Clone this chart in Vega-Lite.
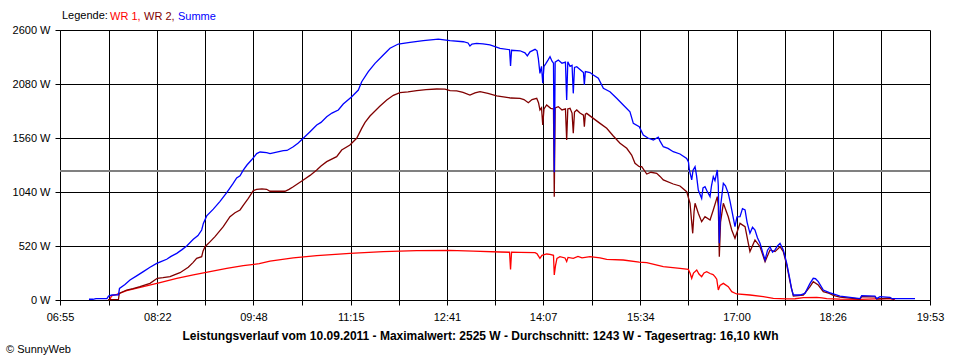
{
 "$schema": "https://vega.github.io/schema/vega-lite/v6.json",
 "width": 870,
 "height": 270,
 "autosize": "none",
 "padding": {"left": 60, "top": 30, "right": 30, "bottom": 60},
 "background": "white",
 "title": {"text": "© SunnyWeb", "orient": "bottom", "anchor": "start", "frame": "bounds", "font": "Liberation Sans", "fontSize": 11, "fontWeight": "normal", "color": "black", "offset": 3, "dx": -6},
 "config": {"view": {"stroke": null}, "font": "Liberation Sans"},
 "data": {"values": [
  {"min":459.7,"serie":"WR 1","watt":5},{"min":461.1,"serie":"WR 1","watt":40},{"min":465.7,"serie":"WR 1","watt":55},{"min":474.6,"serie":"WR 1","watt":90},{"min":489.5,"serie":"WR 1","watt":128},{"min":504.4,"serie":"WR 1","watt":167},{"min":519.4,"serie":"WR 1","watt":209},{"min":534.2,"serie":"WR 1","watt":241},{"min":549.1,"serie":"WR 1","watt":273},{"min":564.1,"serie":"WR 1","watt":305},{"min":578.9,"serie":"WR 1","watt":331},{"min":593.2,"serie":"WR 1","watt":350},{"min":602.8,"serie":"WR 1","watt":375},{"min":623.6,"serie":"WR 1","watt":405},{"min":644.6,"serie":"WR 1","watt":427},{"min":674.3,"serie":"WR 1","watt":449},{"min":704.1,"serie":"WR 1","watt":466},{"min":734.0,"serie":"WR 1","watt":475},{"min":763.1,"serie":"WR 1","watt":477},{"min":784.6,"serie":"WR 1","watt":470},{"min":808.5,"serie":"WR 1","watt":462},{"min":817.0,"serie":"WR 1","watt":460},{"min":817.9,"serie":"WR 1","watt":295},{"min":818.8,"serie":"WR 1","watt":460},{"min":826.4,"serie":"WR 1","watt":458},{"min":839.8,"serie":"WR 1","watt":456},{"min":841.6,"serie":"WR 1","watt":445},{"min":844.2,"serie":"WR 1","watt":401},{"min":846.0,"serie":"WR 1","watt":430},{"min":850.2,"serie":"WR 1","watt":443},{"min":853.2,"serie":"WR 1","watt":440},{"min":856.3,"serie":"WR 1","watt":430},{"min":857.0,"serie":"WR 1","watt":241},{"min":858.1,"serie":"WR 1","watt":330},{"min":859.4,"serie":"WR 1","watt":400},{"min":862.1,"serie":"WR 1","watt":417},{"min":866.6,"serie":"WR 1","watt":405},{"min":868.1,"serie":"WR 1","watt":370},{"min":869.3,"serie":"WR 1","watt":410},{"min":874.0,"serie":"WR 1","watt":401},{"min":878.2,"serie":"WR 1","watt":420},{"min":881.8,"serie":"WR 1","watt":405},{"min":889.0,"serie":"WR 1","watt":417},{"min":897.9,"serie":"WR 1","watt":405},{"min":903.9,"serie":"WR 1","watt":392},{"min":918.7,"serie":"WR 1","watt":385},{"min":933.0,"serie":"WR 1","watt":365},{"min":939.7,"serie":"WR 1","watt":360},{"min":954.5,"serie":"WR 1","watt":321},{"min":969.4,"serie":"WR 1","watt":305},{"min":976.9,"serie":"WR 1","watt":295},{"min":978.4,"serie":"WR 1","watt":260},{"min":979.9,"serie":"WR 1","watt":209},{"min":981.5,"serie":"WR 1","watt":260},{"min":984.4,"serie":"WR 1","watt":289},{"min":986.4,"serie":"WR 1","watt":250},{"min":988.8,"serie":"WR 1","watt":225},{"min":990.9,"serie":"WR 1","watt":260},{"min":993.3,"serie":"WR 1","watt":273},{"min":996.3,"serie":"WR 1","watt":255},{"min":999.0,"serie":"WR 1","watt":245},{"min":1000.7,"serie":"WR 1","watt":225},{"min":1002.3,"serie":"WR 1","watt":200},{"min":1003.7,"serie":"WR 1","watt":96},{"min":1005.2,"serie":"WR 1","watt":140},{"min":1008.2,"serie":"WR 1","watt":160},{"min":1012.6,"serie":"WR 1","watt":128},{"min":1015.7,"serie":"WR 1","watt":80},{"min":1020.1,"serie":"WR 1","watt":58},{"min":1032.0,"serie":"WR 1","watt":48},{"min":1043.9,"serie":"WR 1","watt":32},{"min":1052.9,"serie":"WR 1","watt":16},{"min":1064.9,"serie":"WR 1","watt":10},{"min":1072.3,"serie":"WR 1","watt":12},{"min":1079.7,"serie":"WR 1","watt":22},{"min":1091.7,"serie":"WR 1","watt":26},{"min":1096.4,"serie":"WR 1","watt":20},{"min":1100.6,"serie":"WR 1","watt":13},{"min":1112.5,"serie":"WR 1","watt":8},{"min":1130.4,"serie":"WR 1","watt":6},{"min":1143.8,"serie":"WR 1","watt":10},{"min":1157.2,"serie":"WR 1","watt":13},{"min":1161.7,"serie":"WR 1","watt":3},
  {"min":457.9,"serie":"WR 2","watt":3},{"min":467.3,"serie":"WR 2","watt":5},{"min":468.0,"serie":"WR 2","watt":64},{"min":474.6,"serie":"WR 2","watt":96},{"min":480.3,"serie":"WR 2","watt":110},{"min":486.5,"serie":"WR 2","watt":128},{"min":495.5,"serie":"WR 2","watt":160},{"min":502.0,"serie":"WR 2","watt":209},{"min":507.1,"serie":"WR 2","watt":215},{"min":513.4,"serie":"WR 2","watt":225},{"min":517.8,"serie":"WR 2","watt":245},{"min":522.3,"serie":"WR 2","watt":263},{"min":529.7,"serie":"WR 2","watt":315},{"min":533.9,"serie":"WR 2","watt":360},{"min":537.2,"serie":"WR 2","watt":401},{"min":541.7,"serie":"WR 2","watt":417},{"min":542.9,"serie":"WR 2","watt":470},{"min":544.7,"serie":"WR 2","watt":513},{"min":549.1,"serie":"WR 2","watt":560},{"min":553.6,"serie":"WR 2","watt":610},{"min":561.0,"serie":"WR 2","watt":706},{"min":567.0,"serie":"WR 2","watt":802},{"min":571.5,"serie":"WR 2","watt":840},{"min":576.0,"serie":"WR 2","watt":867},{"min":579.5,"serie":"WR 2","watt":920},{"min":583.4,"serie":"WR 2","watt":979},{"min":587.9,"serie":"WR 2","watt":1053},{"min":590.9,"serie":"WR 2","watt":1066},{"min":595.6,"serie":"WR 2","watt":1070},{"min":599.8,"serie":"WR 2","watt":1066},{"min":602.8,"serie":"WR 2","watt":1047},{"min":616.2,"serie":"WR 2","watt":1047},{"min":619.8,"serie":"WR 2","watt":1065},{"min":623.6,"serie":"WR 2","watt":1091},{"min":632.6,"serie":"WR 2","watt":1156},{"min":638.6,"serie":"WR 2","watt":1200},{"min":644.6,"serie":"WR 2","watt":1252},{"min":648.4,"serie":"WR 2","watt":1290},{"min":653.5,"serie":"WR 2","watt":1332},{"min":662.4,"serie":"WR 2","watt":1380},{"min":666.9,"serie":"WR 2","watt":1444},{"min":674.3,"serie":"WR 2","watt":1492},{"min":680.3,"serie":"WR 2","watt":1557},{"min":684.8,"serie":"WR 2","watt":1653},{"min":687.8,"serie":"WR 2","watt":1710},{"min":692.2,"serie":"WR 2","watt":1772},{"min":701.2,"serie":"WR 2","watt":1868},{"min":707.2,"serie":"WR 2","watt":1926},{"min":713.1,"serie":"WR 2","watt":1971},{"min":719.0,"serie":"WR 2","watt":1997},{"min":726.2,"serie":"WR 2","watt":2005},{"min":734.0,"serie":"WR 2","watt":2016},{"min":742.3,"serie":"WR 2","watt":2025},{"min":751.9,"serie":"WR 2","watt":2032},{"min":759.3,"serie":"WR 2","watt":2030},{"min":763.8,"serie":"WR 2","watt":2016},{"min":769.8,"serie":"WR 2","watt":2013},{"min":775.4,"serie":"WR 2","watt":2000},{"min":781.6,"serie":"WR 2","watt":1974},{"min":786.1,"serie":"WR 2","watt":1995},{"min":790.6,"serie":"WR 2","watt":2006},{"min":797.7,"serie":"WR 2","watt":1990},{"min":805.5,"serie":"WR 2","watt":1965},{"min":814.5,"serie":"WR 2","watt":1952},{"min":818.3,"serie":"WR 2","watt":1945},{"min":826.4,"serie":"WR 2","watt":1942},{"min":829.9,"serie":"WR 2","watt":1930},{"min":833.8,"serie":"WR 2","watt":1900},{"min":837.1,"serie":"WR 2","watt":1930},{"min":841.3,"serie":"WR 2","watt":1942},{"min":842.9,"serie":"WR 2","watt":1900},{"min":844.2,"serie":"WR 2","watt":1830},{"min":845.6,"serie":"WR 2","watt":1850},{"min":846.7,"serie":"WR 2","watt":1685},{"min":847.8,"serie":"WR 2","watt":1840},{"min":850.2,"serie":"WR 2","watt":1878},{"min":853.8,"serie":"WR 2","watt":1846},{"min":856.3,"serie":"WR 2","watt":1840},{"min":857.0,"serie":"WR 2","watt":995},{"min":857.8,"serie":"WR 2","watt":1850},{"min":860.6,"serie":"WR 2","watt":1862},{"min":863.9,"serie":"WR 2","watt":1830},{"min":867.0,"serie":"WR 2","watt":1840},{"min":868.1,"serie":"WR 2","watt":1541},{"min":869.1,"serie":"WR 2","watt":1840},{"min":871.1,"serie":"WR 2","watt":1846},{"min":872.9,"serie":"WR 2","watt":1800},{"min":874.0,"serie":"WR 2","watt":1605},{"min":875.1,"serie":"WR 2","watt":1810},{"min":877.1,"serie":"WR 2","watt":1830},{"min":880.0,"serie":"WR 2","watt":1800},{"min":883.1,"serie":"WR 2","watt":1780},{"min":883.9,"serie":"WR 2","watt":1669},{"min":884.8,"serie":"WR 2","watt":1790},{"min":886.0,"serie":"WR 2","watt":1797},{"min":891.9,"serie":"WR 2","watt":1749},{"min":897.9,"serie":"WR 2","watt":1701},{"min":903.9,"serie":"WR 2","watt":1653},{"min":909.8,"serie":"WR 2","watt":1579},{"min":915.8,"serie":"WR 2","watt":1509},{"min":921.8,"serie":"WR 2","watt":1461},{"min":926.2,"serie":"WR 2","watt":1396},{"min":929.2,"serie":"WR 2","watt":1316},{"min":933.0,"serie":"WR 2","watt":1284},{"min":935.2,"serie":"WR 2","watt":1284},{"min":939.7,"serie":"WR 2","watt":1213},{"min":943.5,"serie":"WR 2","watt":1230},{"min":948.6,"serie":"WR 2","watt":1220},{"min":951.6,"serie":"WR 2","watt":1190},{"min":954.5,"serie":"WR 2","watt":1156},{"min":963.4,"serie":"WR 2","watt":1117},{"min":969.4,"serie":"WR 2","watt":1098},{"min":975.4,"serie":"WR 2","watt":1043},{"min":978.4,"serie":"WR 2","watt":931},{"min":980.8,"serie":"WR 2","watt":642},{"min":982.0,"serie":"WR 2","watt":850},{"min":982.9,"serie":"WR 2","watt":931},{"min":985.8,"serie":"WR 2","watt":835},{"min":988.8,"serie":"WR 2","watt":754},{"min":991.8,"serie":"WR 2","watt":802},{"min":996.3,"serie":"WR 2","watt":770},{"min":999.2,"serie":"WR 2","watt":867},{"min":1002.8,"serie":"WR 2","watt":995},{"min":1003.7,"serie":"WR 2","watt":900},{"min":1004.6,"serie":"WR 2","watt":417},{"min":1005.7,"serie":"WR 2","watt":750},{"min":1008.2,"serie":"WR 2","watt":931},{"min":1012.6,"serie":"WR 2","watt":802},{"min":1015.7,"serie":"WR 2","watt":674},{"min":1018.6,"serie":"WR 2","watt":594},{"min":1023.1,"serie":"WR 2","watt":738},{"min":1027.6,"serie":"WR 2","watt":706},{"min":1032.0,"serie":"WR 2","watt":466},{"min":1036.5,"serie":"WR 2","watt":578},{"min":1041.0,"serie":"WR 2","watt":513},{"min":1045.5,"serie":"WR 2","watt":369},{"min":1049.9,"serie":"WR 2","watt":482},{"min":1054.4,"serie":"WR 2","watt":466},{"min":1058.9,"serie":"WR 2","watt":513},{"min":1061.8,"serie":"WR 2","watt":466},{"min":1064.9,"serie":"WR 2","watt":337},{"min":1067.8,"serie":"WR 2","watt":177},{"min":1070.8,"serie":"WR 2","watt":38},{"min":1079.7,"serie":"WR 2","watt":48},{"min":1085.7,"serie":"WR 2","watt":128},{"min":1088.6,"serie":"WR 2","watt":177},{"min":1093.1,"serie":"WR 2","watt":144},{"min":1097.6,"serie":"WR 2","watt":80},{"min":1103.0,"serie":"WR 2","watt":64},{"min":1106.5,"serie":"WR 2","watt":45},{"min":1112.5,"serie":"WR 2","watt":28},{"min":1121.5,"serie":"WR 2","watt":18},{"min":1130.4,"serie":"WR 2","watt":10},{"min":1131.9,"serie":"WR 2","watt":32},{"min":1143.8,"serie":"WR 2","watt":30},{"min":1145.3,"serie":"WR 2","watt":8},{"min":1157.2,"serie":"WR 2","watt":19},{"min":1160.8,"serie":"WR 2","watt":5},
  {"min":440.9,"serie":"Summe","watt":7},{"min":444.5,"serie":"Summe","watt":7},{"min":447.2,"serie":"Summe","watt":13},{"min":457.0,"serie":"Summe","watt":13},{"min":458.4,"serie":"Summe","watt":38},{"min":461.5,"serie":"Summe","watt":48},{"min":467.3,"serie":"Summe","watt":50},{"min":468.2,"serie":"Summe","watt":112},{"min":473.1,"serie":"Summe","watt":150},{"min":477.6,"serie":"Summe","watt":193},{"min":483.9,"serie":"Summe","watt":235},{"min":489.5,"serie":"Summe","watt":273},{"min":495.5,"serie":"Summe","watt":315},{"min":501.5,"serie":"Summe","watt":353},{"min":505.3,"serie":"Summe","watt":370},{"min":510.4,"serie":"Summe","watt":392},{"min":514.3,"serie":"Summe","watt":420},{"min":519.4,"serie":"Summe","watt":449},{"min":524.1,"serie":"Summe","watt":485},{"min":528.3,"serie":"Summe","watt":520},{"min":534.2,"serie":"Summe","watt":584},{"min":538.4,"serie":"Summe","watt":620},{"min":541.7,"serie":"Summe","watt":674},{"min":543.2,"serie":"Summe","watt":738},{"min":546.2,"serie":"Summe","watt":810},{"min":552.1,"serie":"Summe","watt":875},{"min":558.1,"serie":"Summe","watt":950},{"min":564.1,"serie":"Summe","watt":1035},{"min":569.7,"serie":"Summe","watt":1120},{"min":573.0,"serie":"Summe","watt":1175},{"min":576.0,"serie":"Summe","watt":1195},{"min":578.9,"serie":"Summe","watt":1250},{"min":582.2,"serie":"Summe","watt":1300},{"min":586.4,"serie":"Summe","watt":1350},{"min":590.9,"serie":"Summe","watt":1410},{"min":593.9,"serie":"Summe","watt":1425},{"min":599.8,"serie":"Summe","watt":1419},{"min":602.8,"serie":"Summe","watt":1410},{"min":608.8,"serie":"Summe","watt":1425},{"min":614.7,"serie":"Summe","watt":1438},{"min":618.0,"serie":"Summe","watt":1440},{"min":623.6,"serie":"Summe","watt":1476},{"min":627.8,"serie":"Summe","watt":1510},{"min":632.3,"serie":"Summe","watt":1555},{"min":638.6,"serie":"Summe","watt":1621},{"min":644.6,"serie":"Summe","watt":1685},{"min":648.4,"serie":"Summe","watt":1710},{"min":653.5,"serie":"Summe","watt":1765},{"min":658.2,"serie":"Summe","watt":1800},{"min":663.9,"serie":"Summe","watt":1830},{"min":668.3,"serie":"Summe","watt":1887},{"min":675.9,"serie":"Summe","watt":1958},{"min":681.8,"serie":"Summe","watt":2022},{"min":684.8,"serie":"Summe","watt":2102},{"min":690.7,"serie":"Summe","watt":2199},{"min":696.7,"serie":"Summe","watt":2279},{"min":704.1,"serie":"Summe","watt":2359},{"min":710.1,"serie":"Summe","watt":2424},{"min":717.5,"serie":"Summe","watt":2465},{"min":728.0,"serie":"Summe","watt":2481},{"min":739.9,"serie":"Summe","watt":2497},{"min":753.3,"serie":"Summe","watt":2513},{"min":763.8,"serie":"Summe","watt":2497},{"min":775.7,"serie":"Summe","watt":2487},{"min":779.9,"serie":"Summe","watt":2475},{"min":781.6,"serie":"Summe","watt":2446},{"min":783.4,"serie":"Summe","watt":2465},{"min":787.6,"serie":"Summe","watt":2472},{"min":793.3,"serie":"Summe","watt":2466},{"min":799.5,"serie":"Summe","watt":2456},{"min":808.5,"serie":"Summe","watt":2424},{"min":817.0,"serie":"Summe","watt":2410},{"min":817.9,"serie":"Summe","watt":2253},{"min":818.8,"serie":"Summe","watt":2405},{"min":826.4,"serie":"Summe","watt":2400},{"min":830.8,"serie":"Summe","watt":2380},{"min":832.9,"serie":"Summe","watt":2350},{"min":835.3,"serie":"Summe","watt":2390},{"min":839.8,"serie":"Summe","watt":2414},{"min":841.6,"serie":"Summe","watt":2400},{"min":842.7,"serie":"Summe","watt":2330},{"min":844.2,"serie":"Summe","watt":2183},{"min":845.6,"serie":"Summe","watt":2250},{"min":846.7,"serie":"Summe","watt":2087},{"min":847.8,"serie":"Summe","watt":2250},{"min":849.6,"serie":"Summe","watt":2279},{"min":851.4,"serie":"Summe","watt":2310},{"min":853.2,"serie":"Summe","watt":2343},{"min":855.0,"serie":"Summe","watt":2300},{"min":856.3,"serie":"Summe","watt":2280},{"min":857.0,"serie":"Summe","watt":1230},{"min":857.8,"serie":"Summe","watt":2290},{"min":860.6,"serie":"Summe","watt":2311},{"min":863.9,"serie":"Summe","watt":2280},{"min":867.0,"serie":"Summe","watt":2290},{"min":868.1,"serie":"Summe","watt":1926},{"min":869.1,"serie":"Summe","watt":2295},{"min":871.1,"serie":"Summe","watt":2250},{"min":872.9,"serie":"Summe","watt":2260},{"min":874.0,"serie":"Summe","watt":1990},{"min":875.1,"serie":"Summe","watt":2240},{"min":877.1,"serie":"Summe","watt":2247},{"min":880.0,"serie":"Summe","watt":2220},{"min":883.1,"serie":"Summe","watt":2190},{"min":883.9,"serie":"Summe","watt":2070},{"min":884.8,"serie":"Summe","watt":2200},{"min":889.0,"serie":"Summe","watt":2190},{"min":891.9,"serie":"Summe","watt":2167},{"min":896.4,"serie":"Summe","watt":2135},{"min":900.9,"serie":"Summe","watt":2039},{"min":906.8,"serie":"Summe","watt":2006},{"min":912.8,"serie":"Summe","watt":1942},{"min":918.7,"serie":"Summe","watt":1878},{"min":924.7,"serie":"Summe","watt":1813},{"min":927.7,"serie":"Summe","watt":1701},{"min":933.0,"serie":"Summe","watt":1669},{"min":936.6,"serie":"Summe","watt":1589},{"min":940.8,"serie":"Summe","watt":1560},{"min":945.6,"serie":"Summe","watt":1541},{"min":950.0,"serie":"Summe","watt":1567},{"min":951.6,"serie":"Summe","watt":1530},{"min":954.5,"serie":"Summe","watt":1476},{"min":958.7,"serie":"Summe","watt":1460},{"min":963.4,"serie":"Summe","watt":1428},{"min":969.4,"serie":"Summe","watt":1406},{"min":975.4,"serie":"Summe","watt":1364},{"min":977.0,"serie":"Summe","watt":1330},{"min":977.8,"serie":"Summe","watt":1252},{"min":979.9,"serie":"Summe","watt":1156},{"min":981.1,"serie":"Summe","watt":1250},{"min":982.9,"serie":"Summe","watt":1284},{"min":984.2,"serie":"Summe","watt":1200},{"min":985.8,"serie":"Summe","watt":1059},{"min":988.8,"serie":"Summe","watt":979},{"min":990.0,"serie":"Summe","watt":1080},{"min":991.8,"serie":"Summe","watt":1091},{"min":993.6,"serie":"Summe","watt":1050},{"min":996.3,"serie":"Summe","watt":995},{"min":997.6,"serie":"Summe","watt":1100},{"min":999.2,"serie":"Summe","watt":1187},{"min":1000.7,"serie":"Summe","watt":1150},{"min":1002.8,"serie":"Summe","watt":1252},{"min":1003.7,"serie":"Summe","watt":1100},{"min":1004.6,"serie":"Summe","watt":546},{"min":1005.7,"serie":"Summe","watt":900},{"min":1008.2,"serie":"Summe","watt":1124},{"min":1010.1,"serie":"Summe","watt":1100},{"min":1012.6,"serie":"Summe","watt":1027},{"min":1014.2,"serie":"Summe","watt":950},{"min":1015.7,"serie":"Summe","watt":867},{"min":1018.6,"serie":"Summe","watt":706},{"min":1020.4,"serie":"Summe","watt":800},{"min":1023.1,"serie":"Summe","watt":802},{"min":1025.3,"serie":"Summe","watt":880},{"min":1027.6,"serie":"Summe","watt":867},{"min":1029.4,"serie":"Summe","watt":750},{"min":1032.0,"serie":"Summe","watt":642},{"min":1034.3,"serie":"Summe","watt":700},{"min":1036.5,"serie":"Summe","watt":674},{"min":1038.7,"serie":"Summe","watt":600},{"min":1041.0,"serie":"Summe","watt":546},{"min":1042.8,"serie":"Summe","watt":480},{"min":1045.5,"serie":"Summe","watt":385},{"min":1047.7,"serie":"Summe","watt":480},{"min":1049.9,"serie":"Summe","watt":513},{"min":1052.2,"serie":"Summe","watt":460},{"min":1054.4,"serie":"Summe","watt":482},{"min":1056.6,"serie":"Summe","watt":520},{"min":1058.9,"serie":"Summe","watt":546},{"min":1061.8,"serie":"Summe","watt":482},{"min":1064.9,"serie":"Summe","watt":353},{"min":1067.8,"serie":"Summe","watt":193},{"min":1069.1,"serie":"Summe","watt":110},{"min":1070.8,"serie":"Summe","watt":48},{"min":1076.7,"serie":"Summe","watt":48},{"min":1081.2,"serie":"Summe","watt":64},{"min":1085.7,"serie":"Summe","watt":160},{"min":1088.6,"serie":"Summe","watt":209},{"min":1090.6,"serie":"Summe","watt":205},{"min":1093.1,"serie":"Summe","watt":177},{"min":1097.6,"serie":"Summe","watt":96},{"min":1103.0,"serie":"Summe","watt":71},{"min":1106.5,"serie":"Summe","watt":58},{"min":1112.5,"serie":"Summe","watt":38},{"min":1121.5,"serie":"Summe","watt":26},{"min":1130.4,"serie":"Summe","watt":13},{"min":1131.9,"serie":"Summe","watt":42},{"min":1143.8,"serie":"Summe","watt":38},{"min":1145.3,"serie":"Summe","watt":13},{"min":1148.3,"serie":"Summe","watt":32},{"min":1157.2,"serie":"Summe","watt":26},{"min":1158.8,"serie":"Summe","watt":13},{"min":1179.6,"serie":"Summe","watt":13}
 ]},
 "layer": [
  {
   "mark": {"type": "rule", "color": "#808080", "strokeWidth": 1},
   "encoding": {"y": {"datum": 1243, "type": "quantitative", "scale": {"domain": [0, 2600], "nice": false}}}
  },
  {
   "transform": [{"filter": "datum.serie == 'WR 1'"}],
   "mark": {"type": "line", "strokeWidth": 1.3},
   "encoding": {
    "x": {"field": "min", "type": "quantitative", "scale": {"domain": [415, 1193], "nice": false, "zero": false},
     "axis": {"values": [415,458.5,502,545,588,631.5,675,718,761,804,847,890.5,934,977,1020,1063,1106,1149.5,1193],
      "labelExpr": "indexof([415,502,588,675,761,847,934,1020,1106,1193], datum.value) < 0 ? '' : ((floor(datum.value/60) < 10 ? '0' : '') + floor(datum.value/60) + ':' + (datum.value % 60 < 10 ? '0' : '') + (datum.value % 60))",
      "title": "Leistungsverlauf vom 10.09.2011 - Maximalwert: 2525 W - Durchschnitt: 1243 W - Tagesertrag: 16,10 kWh",
      "titleFont": "Liberation Sans", "titleFontSize": 12, "titleFontWeight": "bold", "titleColor": "black", "titleX": 420, "titlePadding": 8,
      "grid": true, "gridColor": "black", "gridOpacity": 1, "gridWidth": 1,
      "domainColor": "black", "tickColor": "black", "tickSize": 5,
      "labelColor": "black", "labelFont": "Liberation Sans", "labelFontSize": 11, "labelPadding": 6, "labelFlush": false, "labelOverlap": false}},
    "y": {"field": "watt", "type": "quantitative", "scale": {"domain": [0, 2600], "nice": false},
     "axis": {"values": [0,520,1040,1560,2080,2600], "labelExpr": "datum.value + ' W'", "title": null,
      "grid": true, "gridColor": "black", "gridOpacity": 1, "gridWidth": 1,
      "domainColor": "black", "tickColor": "black", "tickSize": 5,
      "labelColor": "black", "labelFont": "Liberation Sans", "labelFontSize": 11, "labelPadding": 5}},
    "color": {"field": "serie", "type": "nominal",
     "scale": {"domain": ["WR 1", "WR 2", "Summe"], "range": ["#ff0000", "#800000", "#0000ff"]},
     "legend": {"title": "Legende:", "orient": "none", "legendX": 2, "legendY": -19, "direction": "horizontal",
      "titleOrient": "left", "titleFontWeight": "normal", "titleFontSize": 11, "titleColor": "black", "titleFont": "Liberation Sans", "titlePadding": 3,
      "labelFont": "Liberation Sans", "labelFontSize": 11, "labelOffset": -12, "symbolSize": 0, "symbolOpacity": 0, "symbolStrokeWidth": 0, "columnPadding": 3,
      "labelExpr": "datum.label == 'Summe' ? datum.label : datum.label + ','",
      "encode": {"labels": {"update": {"fill": {"scale": "color", "field": "value"}}}}}}
   }
  },
  {
   "transform": [{"filter": "datum.serie == 'WR 2'"}],
   "mark": {"type": "line", "strokeWidth": 1.3},
   "encoding": {
    "x": {"field": "min", "type": "quantitative", "scale": {"domain": [415, 1193], "nice": false, "zero": false}},
    "y": {"field": "watt", "type": "quantitative", "scale": {"domain": [0, 2600], "nice": false}},
    "color": {"field": "serie", "type": "nominal"}
   }
  },
  {
   "transform": [{"filter": "datum.serie == 'Summe'"}],
   "mark": {"type": "line", "strokeWidth": 1.3},
   "encoding": {
    "x": {"field": "min", "type": "quantitative", "scale": {"domain": [415, 1193], "nice": false, "zero": false}},
    "y": {"field": "watt", "type": "quantitative", "scale": {"domain": [0, 2600], "nice": false}},
    "color": {"field": "serie", "type": "nominal"}
   }
  }
 ]
}
